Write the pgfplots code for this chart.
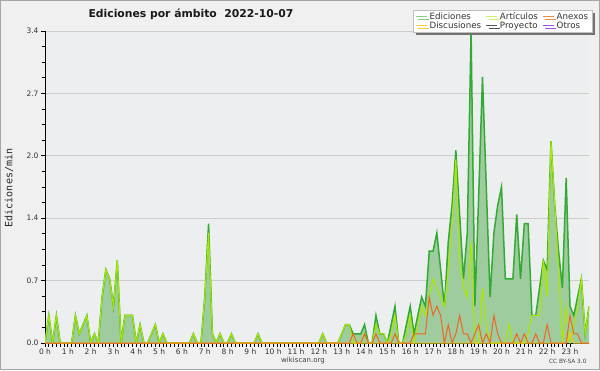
\documentclass[border=0pt]{standalone}
\usepackage{fontspec}
\setmainfont{DejaVu Sans}
\newfontfamily\monofont{DejaVu Sans Mono}
\usepackage{pgfplots}
\pgfplotsset{compat=1.18}
\usepackage{pgfplotstable}
\usetikzlibrary{shadows}

\definecolor{bgout}{RGB}{240,240,240}
\definecolor{bgplot}{RGB}{237,238,240}
\definecolor{edfill}{RGB}{158,204,158}
\definecolor{edline}{RGB}{51,170,51}
\definecolor{artline}{RGB}{170,232,0}
\definecolor{anxline}{RGB}{238,102,34}
\definecolor{disline}{RGB}{238,204,34}
\definecolor{edleg}{RGB}{136,204,136}
\definecolor{artleg}{RGB}{204,238,102}
\definecolor{anxleg}{RGB}{238,136,68}
\definecolor{disleg}{RGB}{238,204,68}
\definecolor{proleg}{RGB}{85,85,85}
\definecolor{otrleg}{RGB}{153,85,238}
\definecolor{gridc}{RGB}{204,204,204}

\pgfplotsset{
  layers/mylayers/.define layer set={axis background,axis grid,main,axis ticks,axis lines,axis tick labels,axis descriptions,axis foreground}{},
}

\pgfplotstableread{
i ed art anx dis
0 0 0 0 0
1 0.3 0.3 0 0
2 0 0 0 0
3 0.3 0.3 0 0
4 0 0 0 0
5 0 0 0 0
6 0 0 0 0
7 0 0 0 0
8 0.3 0.3 0 0
9 0.1 0.1 0 0
10 0.2 0.2 0 0
11 0.3 0.3 0 0
12 0 0 0 0
13 0.1 0.1 0 0
14 0 0 0 0
15 0.5 0.5 0 0
16 0.8 0.8 0 0
17 0.7 0.7 0 0
18 0.4 0.4 0 0
19 0.9 0.9 0 0
20 0 0 0 0
21 0.3 0.3 0 0
22 0.3 0.3 0 0
23 0.3 0.3 0 0
24 0 0 0 0
25 0.2 0.2 0 0
26 0 0 0 0
27 0 0 0 0
28 0.1 0.1 0 0
29 0.2 0.2 0 0
30 0 0 0 0
31 0.1 0.1 0 0
32 0 0 0 0
33 0 0 0 0
34 0 0 0 0
35 0 0 0 0
36 0 0 0 0
37 0 0 0 0
38 0 0 0 0
39 0.1 0.1 0 0
40 0 0 0 0
41 0 0 0 0
42 0.5 0.5 0 0
43 1.3 1.2 0 0
44 0.1 0.1 0 0
45 0 0 0 0
46 0.1 0.1 0 0
47 0 0 0 0
48 0 0 0 0
49 0.1 0.1 0 0
50 0 0 0 0
51 0 0 0 0
52 0 0 0 0
53 0 0 0 0
54 0 0 0 0
55 0 0 0 0
56 0.1 0.1 0 0
57 0 0 0 0
58 0 0 0 0
59 0 0 0 0
60 0 0 0 0
61 0 0 0 0
62 0 0 0 0
63 0 0 0 0
64 0 0 0 0
65 0 0 0 0
66 0 0 0 0
67 0 0 0 0
68 0 0 0 0
69 0 0 0 0
70 0 0 0 0
71 0 0 0 0
72 0 0 0 0
73 0.1 0.1 0 0
74 0 0 0 0
75 0 0 0 0
76 0 0 0 0
77 0 0 0 0
78 0.1 0.1 0 0
79 0.2 0.2 0 0
80 0.2 0.2 0 0
81 0.1 0 0.1 0
82 0.1 0 0 0
83 0.1 0 0 0
84 0.2 0.1 0.1 0
85 0 0 0 0
86 0 0 0 0
87 0.3 0.2 0.1 0
88 0.1 0.1 0 0
89 0.1 0.1 0 0
90 0 0 0 0
91 0.2 0.1 0 0
92 0.4 0.3 0.1 0
93 0 0 0 0
94 0 0 0 0
95 0.2 0.1 0 0
96 0.4 0.3 0 0
97 0.1 0 0.1 0
98 0.3 0.2 0.1 0
99 0.5 0.4 0.1 0
100 0.4 0.3 0.1 0
101 1.0 0.5 0.5 0
102 1.0 0.7 0.3 0
103 1.2 0.6 0.4 0
104 0.8 0.5 0.3 0
105 0.4 0.4 0 0
106 1.1 0.8 0.2 0
107 1.5 1.3 0 0
108 2.1 2.0 0.1 0
109 1.4 0.9 0.3 0
110 0.7 0.6 0.1 0
111 1.2 0.5 0.1 0
112 3.4 1.1 0 0
113 0.4 0 0.1 0
114 1.6 0 0.2 0
115 2.9 0.6 0 0
116 1.7 0.2 0.1 0
117 0.5 0 0 0
118 1.2 0 0.3 0
119 1.5 0 0.1 0
120 1.7 0 0 0
121 0.7 0 0 0
122 0.7 0.2 0 0
123 0.7 0 0 0
124 1.4 0 0.1 0
125 0.7 0 0 0
126 1.3 0 0.1 0
127 1.3 0.1 0 0
128 0.3 0.3 0 0
129 0.3 0.3 0.1 0
130 0.6 0.3 0 0
131 0.9 0.9 0 0
132 0.8 0.5 0.2 0
133 2.2 2.2 0 0
134 1.5 1.5 0 0
135 1.0 0.8 0 0
136 0.6 0 0 0
137 1.8 0.4 0 0
138 0.4 0 0.3 0.1
139 0.3 0.2 0.1 0
140 0.5 0.4 0.1 0
141 0.7 0.7 0 0
142 0.1 0.1 0 0
143 0.4 0.4 0 0
}\datatable

\begin{document}
\begin{tikzpicture}[x=1pt,y=1pt]
\fill[bgout] (0,0) rectangle (600,370);
\draw[black!35, line width=1pt] (0.5,0.5) rectangle (599.5,369.5);
\begin{axis}[
  set layers=mylayers,
  at={(45pt,27pt)}, anchor=south west,
  scale only axis, width=544pt, height=312pt,
  xmin=0, xmax=143, ymin=0, ymax=3.4,
  axis x line*=bottom, axis y line*=left,
  axis line style={black, line width=1pt, -},
  axis background/.style={fill=bgplot},
  xtick={0,6,...,138},
  xticklabels={0 h,1 h,2 h,3 h,4 h,5 h,6 h,7 h,8 h,9 h,10 h,11 h,12 h,13 h,14 h,15 h,16 h,17 h,18 h,19 h,20 h,21 h,22 h,23 h},
  minor x tick num=5,
  ytick={0,0.68,1.36,2.04,2.72,3.4},
  yticklabels={0.0,0.7,1.4,2.0,2.7,3.4},
  minor y tick num=3,
  ymajorgrids, grid style={gridc, line width=0.8pt},
  tick align=outside,
  major tick length=4pt, minor tick length=3.5pt,
  tick style={black, line width=0.8pt},
  ticklabel style={font=\fontsize{7.5}{8}\selectfont, text=black!80},
  xticklabel style={yshift=1.5pt},
  yticklabel style={xshift=1pt},
  legend columns=3,
  legend cell align=left,
  legend image code/.code={\draw[#1] (0pt,0pt) -- (11pt,0pt);},
  legend style={at={(1.007,1.067)}, anchor=north east,
    font=\fontsize{8.7}{9}\selectfont, text=black!80,
    draw=black!25, fill=white, inner xsep=2pt, inner ysep=1.5pt,
    row sep=-1pt,
    nodes={inner xsep=2.5pt, inner ysep=0.8pt},
    drop shadow={shadow xshift=2.5pt, shadow yshift=-2.5pt, fill=black!55, opacity=1},
    /tikz/every even column/.append style={column sep=2pt}},
]
\addplot[draw=none, fill=edfill, forget plot] table[x=i,y=ed]{\datatable} \closedcycle;
\addplot[edline, line width=1.5pt, forget plot] table[x=i,y=ed]{\datatable};
\addplot[artline, line width=1.1pt, forget plot] table[x=i,y=art]{\datatable};
\addplot[disline, line width=1pt, forget plot] table[x=i,y=dis]{\datatable};
\addplot[anxline, line width=1pt, forget plot] table[x=i,y=anx]{\datatable};

\addlegendimage{color=edleg, line width=0.8pt}
\addlegendentry{Ediciones}
\addlegendimage{color=artleg, line width=0.8pt}
\addlegendentry{Artículos}
\addlegendimage{color=anxleg, line width=0.8pt}
\addlegendentry{Anexos}
\addlegendimage{color=disleg, line width=0.8pt}
\addlegendentry{Discusiones}
\addlegendimage{color=proleg, line width=0.8pt}
\addlegendentry{Proyecto}
\addlegendimage{color=otrleg, line width=0.8pt}
\addlegendentry{Otros}
\end{axis}
\node[anchor=west, font=\bfseries\fontsize{10.8}{12}\selectfont, text=black!90] at (85,356) {Ediciones por ámbito\ \ 2022-10-07};
\node[rotate=90, font=\monofont\fontsize{10}{12}\selectfont, text=black!85] at (9,182) {Ediciones/min};
\node[font=\fontsize{7}{8}\selectfont, text=black!75] at (303,9) {wikiscan.org};
\node[anchor=east, font=\fontsize{5.8}{7}\selectfont, text=black!75] at (590,9) {CC BY-SA 3.0};
\end{tikzpicture}
\end{document}
